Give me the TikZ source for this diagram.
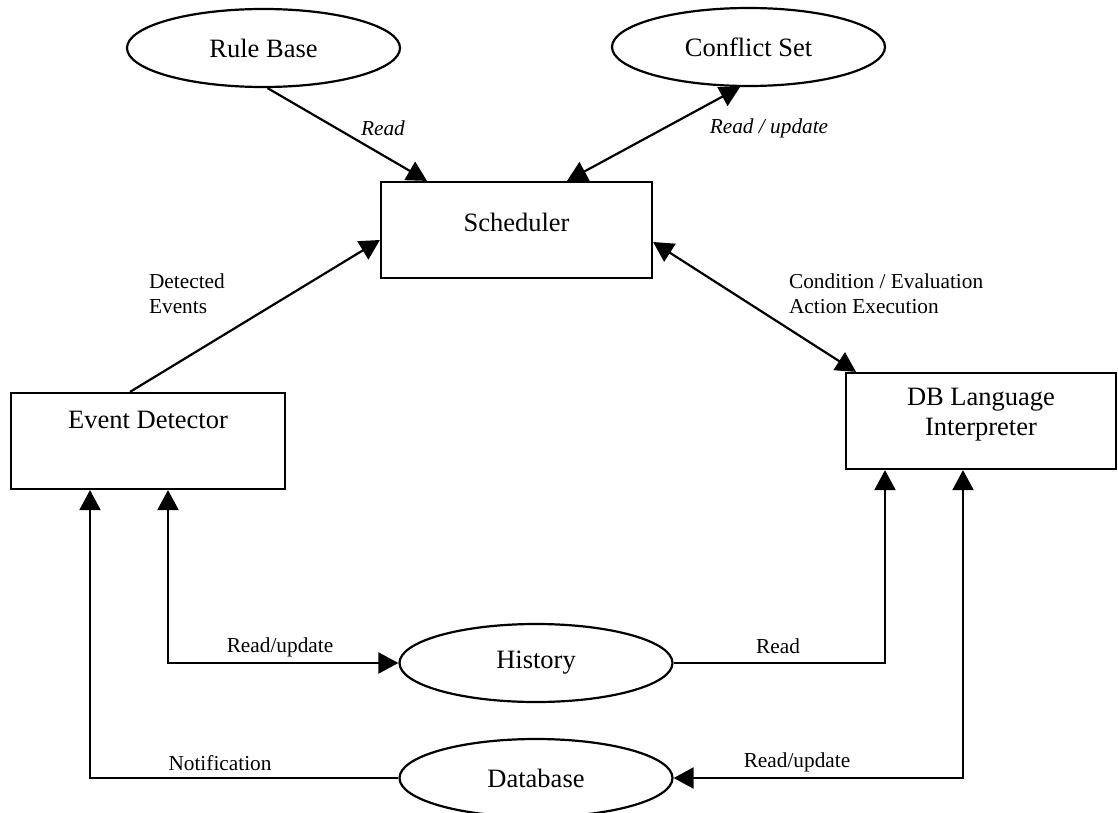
\documentclass[tikz,border=0pt]{standalone}
\usepackage{fontspec}
\setmainfont{Liberation Serif}
\usetikzlibrary{arrows.meta,shapes.geometric}

\tikzset{
  every picture/.style={line width=1.1pt},
  store/.style={draw, ellipse, minimum width=136.5pt, minimum height=39pt,
                inner sep=0pt, font=\fontsize{13.25}{15}\selectfont},
  unit/.style={draw, rectangle, inner sep=0pt, minimum height=48pt},
  unittext/.style={font=\fontsize{13.25}{15}\selectfont, align=center},
  flowlabel/.style={font=\fontsize{10.65}{12.5}\selectfont, inner sep=0pt},
  arr/.style={-{Triangle[length=10pt,width=10.5pt]}},
  biarr/.style={{Triangle[length=10pt,width=10.5pt]}-{Triangle[length=10pt,width=10.5pt]}},
  rarr/.style={{Triangle[length=10pt,width=10.5pt]}-},
}

\begin{document}
\begin{tikzpicture}[x=0.5pt, y=-0.5pt]
  \useasboundingbox (0,0) rectangle (1118,813);

  % data stores
  \node[store] (rb)    at (263.5,48)  {Rule Base};
  \node[store] (cs)    at (748.5,47)  {Conflict Set};
  \node[store] (hist)  at (536,663)   {History};
  \node[store] (dbase) at (536,778)   {Database};

  % processing units
  \node[unit, minimum width=135.5pt,
        label={[unittext, yshift=4pt]center:Scheduler}] (sched) at (516.5,230) {};
  \node[unit, minimum width=137pt,
        label={[unittext, yshift=10.5pt]center:Event Detector}] (ed) at (148,441) {};
  \node[unit, minimum width=135pt,
        label={[unittext, yshift=3pt]center:DB Language\\Interpreter}] (dbl) at (981,421) {};

  % connectors
  \draw[arr] ([xshift=2pt]rb.south) -- ([xshift=-44.75pt]sched.north);
  \draw[biarr] ([xshift=-4.25pt]cs.south) -- ([xshift=25.25pt]sched.north);
  \draw[arr] ([xshift=-9pt]ed.north) -- ([yshift=-5pt]sched.west);
  \draw[biarr] ([yshift=-6pt]sched.east) -- ([xshift=-62.5pt]dbl.north);
  \draw[biarr] ([xshift=10pt]ed.south) |- (hist.west);
  \draw[rarr] ([xshift=-29pt]ed.south) |- (dbase.west);
  \draw[arr] (hist.east) -| ([xshift=-48pt]dbl.south);
  \draw[biarr] ([xshift=-9pt]dbl.south) |- (dbase.east);

  % connector labels
  \node[flowlabel, font=\fontsize{10.65}{12.5}\selectfont\itshape] (lread1) at (383,128) {Read};
  \node[flowlabel, font=\fontsize{10.65}{12.5}\selectfont\itshape] (lread2) at (769,128) {Read / update};
  \node[flowlabel, anchor=west, align=left] (ldet) at (148,293.5) {Detected\\Events};
  \node[flowlabel, anchor=west, align=left] (lcond) at (788,293.5) {Condition / Evaluation\\Action Execution};
  \node[flowlabel] (lru1) at (280,647) {Read/update};
  \node[flowlabel] (lnot) at (220,763) {Notification};
  \node[flowlabel] (lread3) at (778,646) {Read};
  \node[flowlabel] (lru2) at (797,762) {Read/update};
\end{tikzpicture}
\end{document}
